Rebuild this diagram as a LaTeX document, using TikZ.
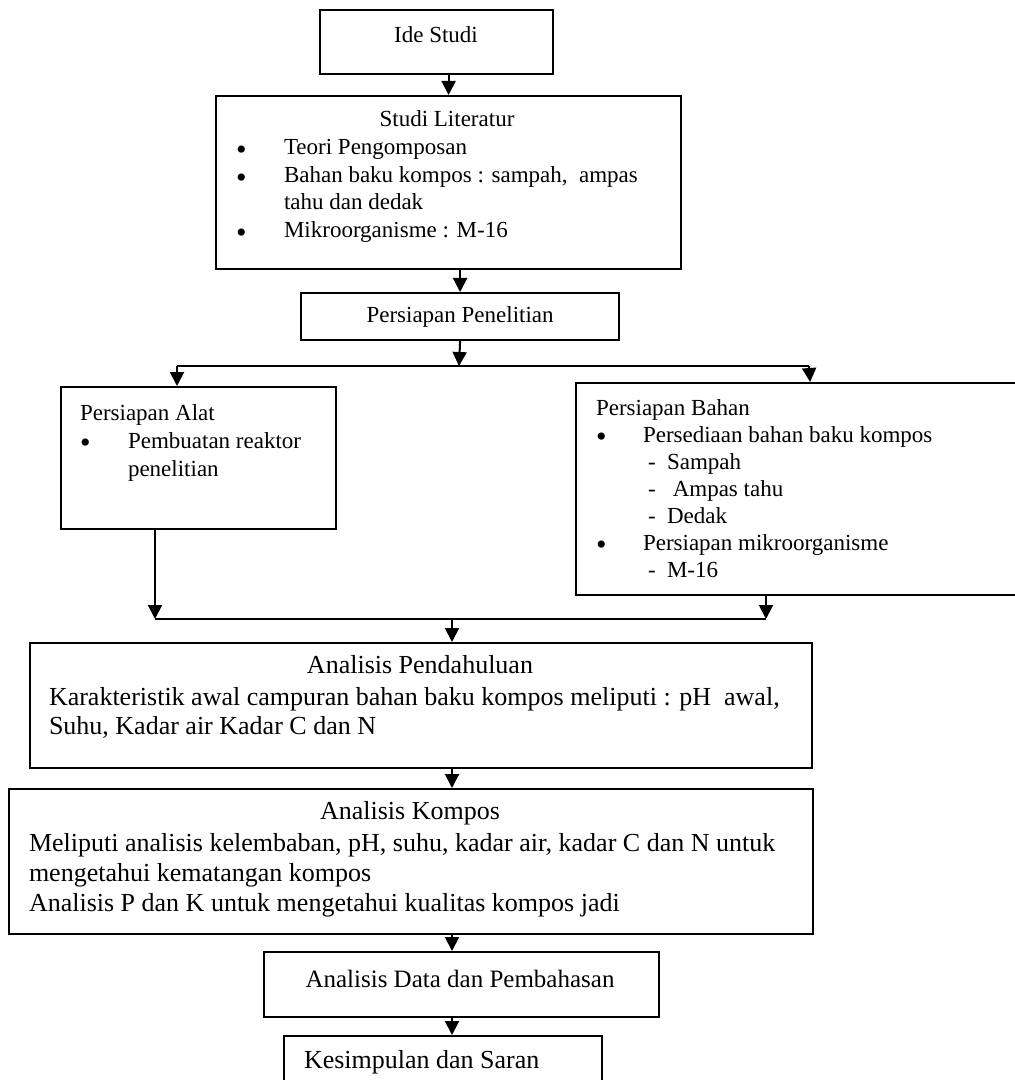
\documentclass[tikz,border=0pt]{standalone}
\usepackage{fontspec}
\setmainfont{Liberation Serif}
\usetikzlibrary{arrows.meta}
\newcommand{\blt}[1]{\makebox[#1][l]{\smash{\raisebox{-2.4pt}{\fontsize{15}{15}\selectfont\textbullet}}}}

\begin{document}
\begin{tikzpicture}[x=0.5pt, y=-0.5pt, line width=1pt, >={Triangle[width=7pt, length=7pt]},
    box/.style = {draw, rectangle, line width=1.1pt, inner sep=0pt, anchor=north west},
    txt/.style = {inner sep=0pt, align=left, anchor=north west},
    title/.style = {inner sep=0pt, anchor=base}]
        \useasboundingbox (0,0) rectangle (1014,1080);

        % boxes
        \node[box, minimum width=116.5pt, minimum height=32pt] (ide_studi) at (319,9) {};
        \node[box, minimum width=232.5pt, minimum height=86.5pt] (studi_lit) at (215,95) {};
        \node[box, minimum width=159pt, minimum height=23.5pt, font=\fontsize{11.5}{13.8}\selectfont] (persiapan) at (300,292) {Persiapan Penelitian};
        \node[box, minimum width=137.5pt, minimum height=71pt] (alat) at (60,386) {};
        \node[box, minimum width=234pt, minimum height=106pt] (bahan) at (575,382) {};
        \node[box, minimum width=391pt, minimum height=62.5pt] (pendahuluan) at (29,642) {};
        \node[box, minimum width=402pt, minimum height=72.5pt] (kompos) at (8,788) {};
        \node[box, minimum width=197.5pt, minimum height=32.5pt] (data) at (263,951) {};
        \node[box, minimum width=159pt, minimum height=31pt] (simpulan) at (283,1035) {};

        % texts in the boxes
        \node[title, font=\fontsize{11.5}{13.8}\selectfont] (ide_title) at (436,43) {Ide Studi};
        \node[title, font=\fontsize{11.5}{13.8}\selectfont] (studi_title) at (447,127) {Studi Literatur};
        \node[txt, font=\fontsize{11.5}{13.75}\selectfont] (studi_list) at (235,134.75) {\strut\blt{24pt}Teori Pengomposan\\
            \blt{24pt}Bahan baku kompos : sampah, \ ampas\\
            \hspace*{24pt}tahu dan dedak\\
            \blt{24pt}Mikroorganisme : M-16};
        \node[txt, font=\fontsize{11.5}{14}\selectfont] (alat_list) at (79,399.4) {\strut Persiapan Alat\\
            \blt{24pt}Pembuatan reaktor\\
            \hspace*{24pt}penelitian};
        \node[txt, font=\fontsize{11.5}{13.5}\selectfont] (bahan_list) at (595,395.1) {\strut Persiapan Bahan\\
            \blt{23.5pt}Persediaan bahan baku kompos\\
            \hspace*{26pt}\makebox[9.5pt][l]{-}Sampah\\
            \hspace*{26pt}\makebox[9.5pt][l]{-}\ Ampas tahu\\
            \hspace*{26pt}\makebox[9.5pt][l]{-}Dedak\\
            \blt{23.5pt}Persiapan mikroorganisme\\
            \hspace*{26pt}\makebox[9.5pt][l]{-}M-16};
        \node[title, font=\fontsize{13}{15}\selectfont] (pendahuluan_title) at (420,673) {Analisis Pendahuluan};
        \node[txt, font=\fontsize{13}{14.5}\selectfont] (pendahuluan_text) at (48,683.7) {\strut Karakteristik awal campuran bahan baku kompos meliputi : pH \ awal,\\
            Suhu, Kadar air Kadar C dan N};
        \node[title, font=\fontsize{13}{15}\selectfont] (kompos_title) at (410,819) {Analisis Kompos};
        \node[txt, font=\fontsize{13}{15}\selectfont] (kompos_text) at (28,829) {\strut Meliputi analisis kelembaban, pH, suhu, kadar air, kadar C dan N untuk\\
            mengetahui kematangan kompos\\
            Analisis P dan K untuk mengetahui kualitas kompos jadi};
        \node[title, font=\fontsize{12.5}{15}\selectfont] (data_title) at (460,987) {Analisis Data dan Pembahasan};
        \node[title, anchor=base west, font=\fontsize{13}{15}\selectfont] (simpulan_title) at (303,1068) {Kesimpulan dan Saran};

        % branch and merge points
        \coordinate (split) at (459,366);
        \coordinate (split_l) at (177,366);
        \coordinate (split_r) at (809,366);
        \coordinate (merge_l) at (155,619);
        \coordinate (merge_r) at (766,619);
        \coordinate (merge_c) at (452,619);

        \draw[->] (studi_lit.north |- ide_studi.south) -- (studi_lit.north);
        \draw[->] (persiapan.north |- studi_lit.south) -- (persiapan.north);
        \draw[->] (persiapan.south) -- (split);
        \draw (split_l) -- (split_r);
        \draw[->] (split_l) -- (split_l |- alat.north);
        \draw[->] (split_r) -- (bahan.north);
        \draw[->] (merge_l |- alat.south) -- (merge_l);
        \draw[->] (merge_r |- bahan.south) -- (merge_r);
        \draw (merge_l) -- (merge_r);
        \draw[->] (merge_c) -- (merge_c |- pendahuluan.north);
        \draw[->] (merge_c |- pendahuluan.south) -- (merge_c |- kompos.north);
        \draw[->] (merge_c |- kompos.south) -- (merge_c |- data.north);
        \draw[->] (merge_c |- data.south) -- (merge_c |- simpulan.north);
\end{tikzpicture}
\end{document}
